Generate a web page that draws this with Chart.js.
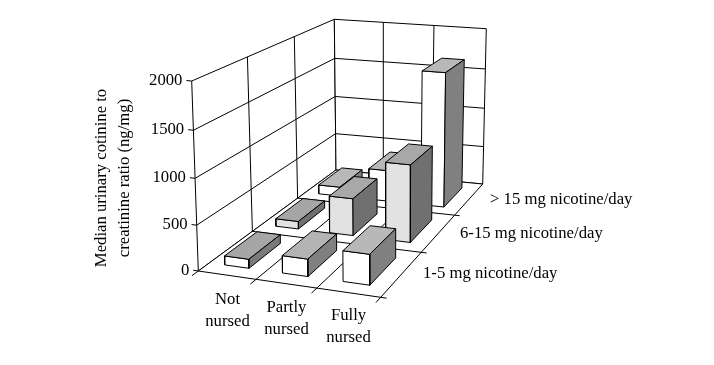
<!DOCTYPE html>
<html>
<head>
<meta charset="utf-8">
<title>Median urinary cotinine</title>
<script src="https://cdn.jsdelivr.net/npm/chart.js@4/dist/chart.umd.js"></script>
<style>
   html, body { margin: 0; padding: 0; background: #fff; }
   canvas { display: block; }
</style>
</head>
<body>
<canvas id="myChart" width="714" height="365"></canvas>
<script>
"use strict";

// data
const categories = [["Not", "nursed"], ["Partly", "nursed"], ["Fully", "nursed"]];
const seriesNames = ["1-5 mg nicotine/day", "6-15 mg nicotine/day", "> 15 mg nicotine/day"];
const low = [100, 190, 330];
const mid = [90, 435, 895];
const high = [115, 390, 1650];
const tickValues = [0, 500, 1000, 1500, 2000];
const yTitle = ["Median urinary cotinine to", "creatinine ratio (ng/mg)"];

// where the box of the 3d chart sits on the canvas
const floorCorners = [[198.3, 271], [380.7, 297.3], [482.7, 184], [336, 170]];
const topCorners = [[191.7, 81], [380.1, 97.3], [486.3, 28.7], [334.3, 19.3]];
const maxValue = 2000;

const squareToQuad = function (q) {
   const [[x0, y0], [x1, y1], [x2, y2], [x3, y3]] = q;
   const dx1 = x1 - x2, dx2 = x3 - x2, sx = x0 - x1 + x2 - x3;
   const dy1 = y1 - y2, dy2 = y3 - y2, sy = y0 - y1 + y2 - y3;
   const den = dx1 * dy2 - dx2 * dy1;
   const g = (sx * dy2 - dx2 * sy) / den;
   const h = (dx1 * sy - sx * dy1) / den;
   const a = x1 - x0 + g * x1, b = x3 - x0 + h * x3;
   const d = y1 - y0 + g * y1, e = y3 - y0 + h * y3;
   return (u, v) => {
      const w = g * u + h * v + 1;
      return [(a * u + b * v + x0) / w, (d * u + e * v + y0) / w];
   };
};
const floorMap = squareToQuad(floorCorners);
const topMap = squareToQuad(topCorners);

// u = along categories, v = into the depth, value = height
const project = function (u, v, value) {
   const t = value / maxValue;
   const f = t / (1 + 0.05 * (1 - t));
   const a = floorMap(u, v);
   const b = topMap(u, v);
   return { x: a[0] + (b[0] - a[0]) * f, y: a[1] + (b[1] - a[1]) * f };
};

const datasets = [];
const addShape = function (points, fillColor) {
   datasets.push({
      data: points,
      showLine: true,
      pointRadius: 0,
      borderColor: "#000",
      borderWidth: 1,
      backgroundColor: fillColor || "transparent",
      fill: fillColor ? "shape" : false,
      clip: false,
   });
};

// walls and floor
addShape([project(0, 0, 0), project(0, 1, 0), project(0, 1, maxValue), project(0, 0, maxValue), project(0, 0, 0)], "#fff");
addShape([project(0, 1, 0), project(1, 1, 0), project(1, 1, maxValue), project(0, 1, maxValue), project(0, 1, 0)], "#fff");
addShape([project(0, 0, 0), project(1, 0, 0), project(1, 1, 0), project(0, 1, 0), project(0, 0, 0)], "#fff");

tickValues.slice(1, -1).forEach((val) => {
   addShape([project(0, 0, val), project(0, 1, val), project(1, 1, val)]);
});
[1 / 3, 2 / 3].forEach((s) => {
   addShape([project(0, s, 0), project(0, s, maxValue)]);
   addShape([project(s, 1, 0), project(s, 1, maxValue)]);
   addShape([project(s, -0.035, 0), project(s, 1, 0)]);
   addShape([project(0, s, 0), project(1.03, s, 0)]);
});
addShape([project(0, -0.035, 0), project(0, 0, 0)]);
addShape([project(1, -0.035, 0), project(1, 0, 0)]);
addShape([project(1, 0, 0), project(1.03, 0, 0)]);
tickValues.forEach((val) => {
   addShape([project(-0.03, 0, val), project(0, 0, val)]);
});

// bars, back row first so the front ones cover them
const barWidth = 0.142;
const barDepth = 0.205;
const barShift = -0.005;
const rows = [
   { values: high, front: "#fff", top: ["#b8b8b8", "#b8b8b8", "#b8b8b8"], side: ["#808080", "#808080", "#808080"] },
   { values: mid, front: "#e2e2e2", top: ["#a6a6a6", "#a8a8a8", "#a8a8a8"], side: ["#707070", "#707070", "#707070"] },
   { values: low, front: "#fff", top: ["#a6a6a6", "#b4b4b4", "#b8b8b8"], side: ["#7a7a7a", "#808080", "#808080"] },
];
rows.forEach((row, r) => {
   const vMid = (2 - r + 0.5) / 3;
   const v0 = vMid - barDepth / 2;
   const v1 = vMid + barDepth / 2;
   row.values.forEach((val, c) => {
      const uMid = (c + 0.5) / 3 + barShift;
      const u0 = uMid - barWidth / 2;
      const u1 = uMid + barWidth / 2;
      addShape([project(u0, v0, 0), project(u1, v0, 0), project(u1, v0, val), project(u0, v0, val), project(u0, v0, 0)], row.front);
      addShape([project(u0, v0, val), project(u1, v0, val), project(u1, v1, val), project(u0, v1, val), project(u0, v0, val)], row.top[c]);
      addShape([project(u1, v0, 0), project(u1, v1, 0), project(u1, v1, val), project(u1, v0, val), project(u1, v0, 0)], row.side[c]);
   });
});
// first dataset in the list has to be painted first
datasets.forEach((ds, i) => {
   ds.order = datasets.length - i;
});

const textFont = "16.7px 'Liberation Serif'";
const catLabelSpots = [[227.5, 300], [286.5, 308], [348.5, 316]];
const seriesLabelSpots = [[423, 273.5], [460, 233.5], [490, 200]];

const labelsPlugin = {
   id: "labels3d",
   afterDraw(chart) {
      const ctx = chart.ctx;
      ctx.save();
      ctx.fillStyle = "#000";
      ctx.font = textFont;
      ctx.textBaseline = "middle";

      ctx.textAlign = "right";
      tickValues.forEach((val) => {
         const p = project(-0.03, 0, val);
         ctx.fillText(String(val), p.x - 4, p.y);
      });

      ctx.textAlign = "center";
      categories.forEach((lines, i) => {
         lines.forEach((line, k) => {
            ctx.fillText(line, catLabelSpots[i][0], catLabelSpots[i][1] + k * 22);
         });
      });

      ctx.textAlign = "left";
      seriesNames.forEach((name, i) => {
         ctx.fillText(name, seriesLabelSpots[i][0], seriesLabelSpots[i][1]);
      });

      ctx.translate(102, 178);
      ctx.rotate(-Math.PI / 2);
      ctx.textAlign = "center";
      yTitle.forEach((line, k) => {
         ctx.fillText(line, 0, k * 23);
      });
      ctx.restore();
   },
};

const ctx = document.getElementById("myChart").getContext("2d");
const myChart = new Chart(ctx, {
   type: "scatter",
   data: { datasets: datasets },
   options: {
      responsive: false,
      animation: false,
      layout: { padding: 0 },
      plugins: { legend: { display: false }, tooltip: { enabled: false } },
      scales: {
         x: { type: "linear", display: false, min: 0, max: 714 },
         y: { type: "linear", display: false, min: 0, max: 365, reverse: true },
      },
   },
   plugins: [labelsPlugin],
});
</script>
</body>
</html>
